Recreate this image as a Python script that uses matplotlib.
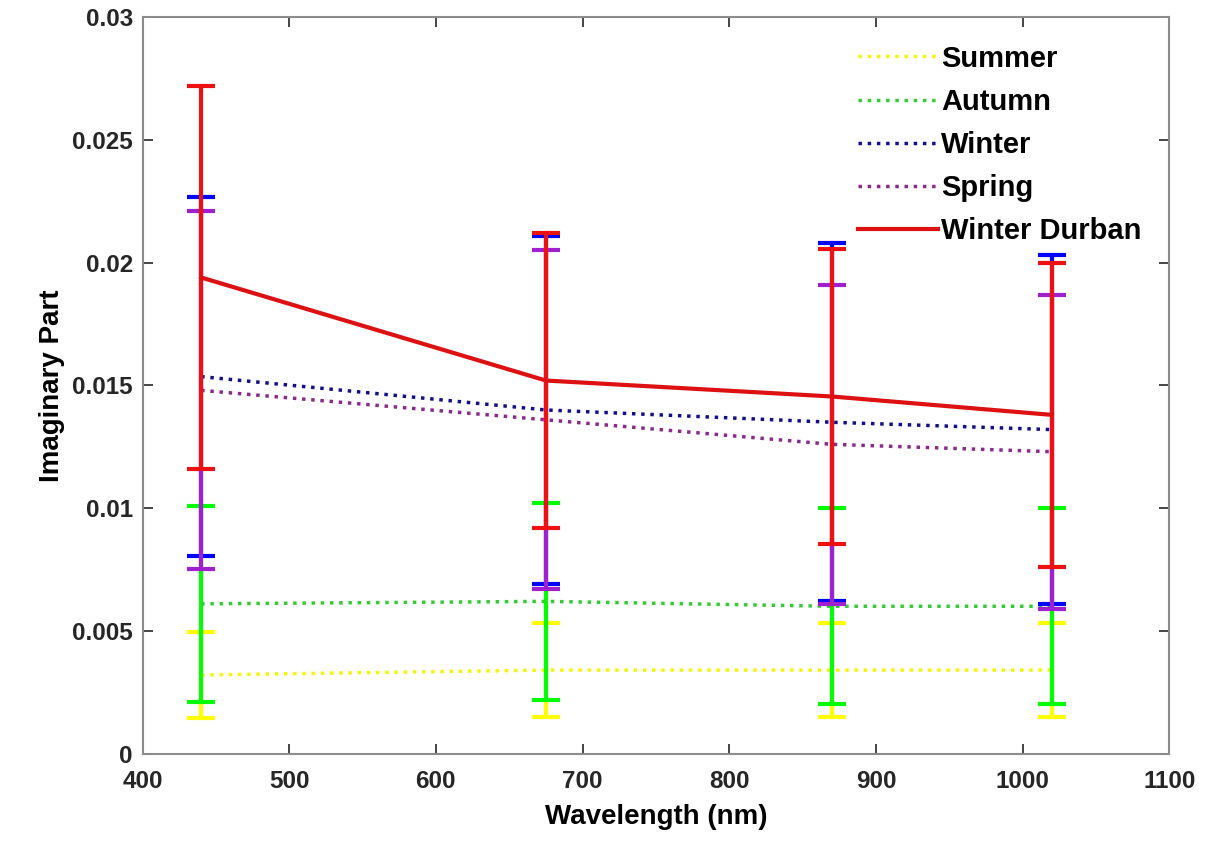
import numpy as np
import matplotlib
matplotlib.use("Agg")
import matplotlib.pyplot as plt

plt.rcParams['font.family'] = ['Liberation Sans', 'DejaVu Sans']

wavelength = [440, 675, 870, 1020]

summer = [0.0032, 0.0034, 0.0034, 0.0034]
summer_err = [0.00175, 0.0019, 0.0019, 0.0019]
autumn = [0.0061, 0.0062, 0.0060, 0.0060]
autumn_err = [0.0040, 0.0040, 0.0040, 0.0040]
winter = [0.01536, 0.0140, 0.0135, 0.0132]
winter_err = [0.0073, 0.0071, 0.0073, 0.0071]
spring = [0.0148, 0.0136, 0.0126, 0.0123]
spring_err = [0.0073, 0.0069, 0.0065, 0.0064]
durban = [0.0194, 0.0152, 0.01455, 0.0138]
durban_err = [0.0078, 0.0060, 0.0060, 0.0062]

labels = ["Summer", "Autumn", "Winter", "Spring", "Winter Durban"]

fig = plt.figure(figsize=(12.18, 8.52), dpi=100)
ax = fig.add_axes([0.117, 0.1156, 0.843, 0.864])

series = [
    (summer, summer_err, "#f5f50a", "#ffff00", ":", 2.5),
    (autumn, autumn_err, "#33cc33", "#00ff00", ":", 2.5),
    (winter, winter_err, "#10108a", "#0000ff", ":", 2.5),
    (spring, spring_err, "#8a2a8a", "#a020d0", ":", 2.5),
    (durban, durban_err, "#dd1111", "#ee1111", "-", 3.0),
]

lines = []
for (vals, err, lc, ec, ls, lw), lab in zip(series, labels):
    ax.errorbar(wavelength, vals, yerr=err, fmt="none", ecolor=ec,
                elinewidth=3, capsize=10, capthick=3)
    l, = ax.plot(wavelength, vals, linestyle=ls, color=lc, linewidth=lw, label=lab)
    lines.append(l)

ax.set_xlim(400, 1100)
ax.set_ylim(0, 0.03)
ax.set_xticks(np.arange(400, 1101, 100))
ax.set_yticks(np.arange(0, 0.0301, 0.005))
ax.set_yticklabels(["0", "0.005", "0.01", "0.015", "0.02", "0.025", "0.03"])

for sp in ax.spines.values():
    sp.set_color("#8c8c8c")
    sp.set_linewidth(1.5)
ax.tick_params(direction="in", length=7, width=1.2, color="#262626",
               labelsize=17.5, top=True, right=True, pad=7)
ax.tick_params(axis="x", pad=12)
for t in ax.get_xticklabels() + ax.get_yticklabels():
    t.set_fontweight("bold")
    t.set_color("#262626")

ax.set_xlabel("Wavelength (nm)", fontsize=20, fontweight="bold", labelpad=8)
ax.set_ylabel("Imaginary Part", fontsize=20, fontweight="bold", labelpad=5)

leg = ax.legend(handles=lines, loc="upper left", bbox_to_anchor=(0.6966, 0.963),
                frameon=False, fontsize=21, handlelength=2.75, handletextpad=0.1,
                labelspacing=0.52, borderpad=0, borderaxespad=0)
for t in leg.get_texts():
    t.set_fontweight("bold")

fig.savefig("out.png", dpi=100)
